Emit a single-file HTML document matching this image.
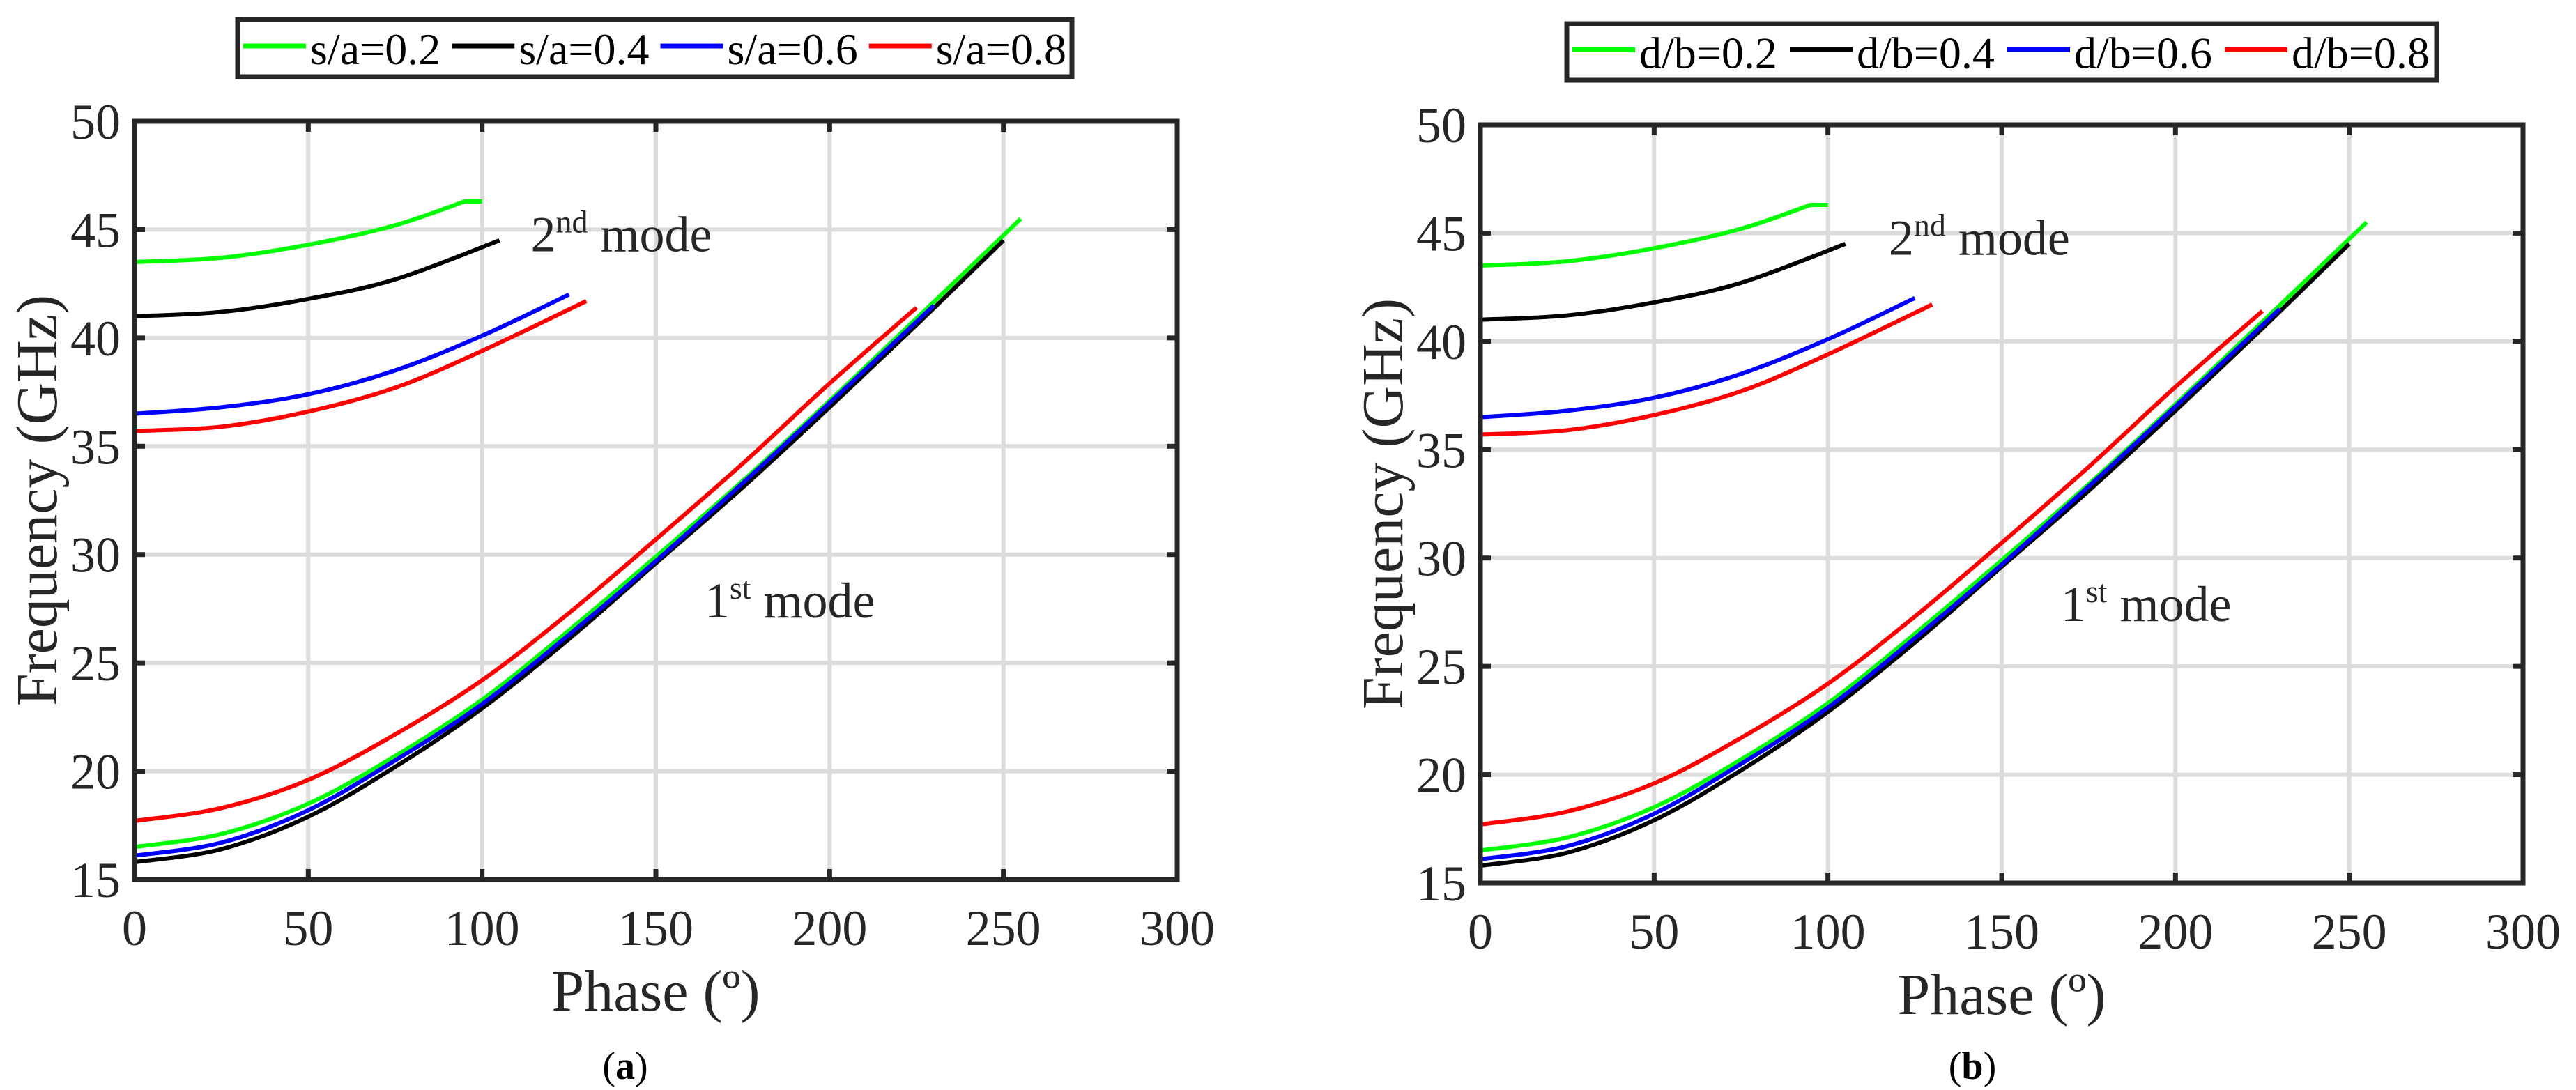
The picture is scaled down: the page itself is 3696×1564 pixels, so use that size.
<!DOCTYPE html>
<html><head><meta charset="utf-8">
<style>
html,body{margin:0;padding:0;background:#fff;}
svg{display:block;}
svg text{font-family:"Liberation Serif","DejaVu Serif",serif;}
</style></head>
<body>
<svg id="fig" width="3696" height="1564" viewBox="0 0 3696 1564" xmlns="http://www.w3.org/2000/svg" font-family="Liberation Serif, serif"></svg>
<script>
const xTicks=[0,50,100,150,200,250,300];
const yTicks=[15,20,25,30,35,40,45,50];
const seriesColors=["#00ff00","#000000","#0000ff","#ff0000"];
const labelsA=["s/a=0.2","s/a=0.4","s/a=0.6","s/a=0.8"];
const labelsB=["d/b=0.2","d/b=0.4","d/b=0.6","d/b=0.8"];
// mode 1 phases & frequencies
const m1GreenX=[0,25,50,75,100,125,150,175,200,225,255];
const m1GreenY=[16.5,17.1,18.5,20.7,23.3,26.5,29.9,33.4,37.1,40.9,45.5];
const m1BlackX=[0,25,50,75,100,125,150,175,200,225,250];
const m1BlackY=[15.8,16.4,17.9,20.2,22.9,26.1,29.6,33.1,36.8,40.6,44.5];
const m1BlueX=[0,25,50,75,100,125,150,175,200,230];
const m1BlueY=[16.1,16.7,18.2,20.5,23.1,26.3,29.7,33.3,37.0,41.5];
const m1RedX=[0,25,50,75,100,125,150,175,200,225];
const m1RedY=[17.7,18.3,19.6,21.7,24.2,27.3,30.7,34.2,37.9,41.4];
// mode 2
const m2GreenX=[0,25,50,75,95,100];
const m2GreenY=[43.5,43.7,44.3,45.2,46.3,46.3];
const m2BlackX=[0,25,50,75,105];
const m2BlackY=[41.0,41.2,41.8,42.7,44.5];
const m2BlueX=[0,25,50,75,100,125];
const m2BlueY=[36.5,36.8,37.4,38.5,40.1,42.0];
const m2RedX=[0,25,50,75,100,130];
const m2RedY=[35.7,35.9,36.6,37.7,39.4,41.7];

const NS="http://www.w3.org/2000/svg";
const svg=document.getElementById('fig');
function mk(tag,attrs,parent){const e=document.createElementNS(NS,tag);for(const k in attrs)e.setAttribute(k,attrs[k]);(parent||svg).appendChild(e);return e;}
function smoothPath(pts){
  let d="M"+pts[0][0]+","+pts[0][1];
  const n=pts.length;
  let last=n-1;
  const flatTail=n>2&&pts[n-1][1]===pts[n-2][1];
  if(flatTail)last=n-2;
  for(let i=0;i<last;i++){
    const p0=pts[Math.max(0,i-1)],p1=pts[i],p2=pts[i+1],p3=pts[Math.min(last,i+2)];
    const c1=[p1[0]+(p2[0]-p0[0])/6,p1[1]+(p2[1]-p0[1])/6];
    const c2=[p2[0]-(p3[0]-p1[0])/6,p2[1]-(p3[1]-p1[1])/6];
    d+=" C"+c1[0]+","+c1[1]+" "+c2[0]+","+c2[1]+" "+p2[0]+","+p2[1];
  }
  if(flatTail)d+=" L"+pts[n-1][0]+","+pts[n-1][1];
  return d;
}
function panel(id,x0,y0,labels,legend,caption,capX,ann2,ann1){
  const W=1496,H=1088;
  const sx=v=>x0+v/300*W, sy=v=>y0+H-(v-15)/35*H;
  const g=mk('g',{});
  
  
  xTicks.forEach(t=>{if(t>0&&t<300){const l=mk('line',{x1:sx(t),x2:sx(t),y1:y0,y2:y0+H,stroke:'#dcdcdc','stroke-width':6},g);
    }});
  yTicks.forEach(t=>{if(t>15&&t<50){const l=mk('line',{x1:x0,x2:x0+W,y1:sy(t),y2:sy(t),stroke:'#dcdcdc','stroke-width':6},g);
    }});
  const sets=[[m1GreenX,m1GreenY,0],[m1BlackX,m1BlackY,1],[m1BlueX,m1BlueY,2],[m1RedX,m1RedY,3],
              [m2GreenX,m2GreenY,0],[m2BlackX,m2BlackY,1],[m2BlueX,m2BlueY,2],[m2RedX,m2RedY,3]];
  sets.forEach((s,k)=>{
    const pts=s[0].map((v,i)=>[sx(v),sy(s[1][i])]);
    const p=mk('path',{d:smoothPath(pts),fill:'none',stroke:seriesColors[s[2]],'stroke-width':6},g);
    
    
  });
  const box=mk('rect',{x:x0,y:y0,width:W,height:H,fill:'none',stroke:'#262626','stroke-width':7},g);
  
  xTicks.forEach(t=>{
    mk('line',{x1:sx(t),x2:sx(t),y1:y0+H,y2:y0+H-15,stroke:'#262626','stroke-width':7},g);
    mk('line',{x1:sx(t),x2:sx(t),y1:y0,y2:y0+15,stroke:'#262626','stroke-width':7},g);
    const tx=mk('text',{x:sx(t),y:y0+H+94,'font-size':72,'text-anchor':'middle',fill:'#262626'},g);
    tx.textContent=t;
    
  });
  yTicks.forEach(t=>{
    mk('line',{x1:x0,x2:x0+15,y1:sy(t),y2:sy(t),stroke:'#262626','stroke-width':7},g);
    mk('line',{x1:x0+W,x2:x0+W-15,y1:sy(t),y2:sy(t),stroke:'#262626','stroke-width':7},g);
    const tx=mk('text',{x:x0-20,y:sy(t)+25,'font-size':72,'text-anchor':'end',fill:'#262626'},g);
    tx.textContent=t;
    
  });
  const xt=mk('text',{x:x0+W/2,y:y0+H+188,'font-size':84,'text-anchor':'middle',fill:'#262626'},g);
  xt.textContent='Phase (º)';
  
  const yt=mk('text',{x:0,y:0,'font-size':84,'text-anchor':'middle',fill:'#262626',transform:`translate(${x0-112},${y0+H/2}) rotate(-90)`},g);
  yt.textContent='Frequency (GHz)';
  
  const a2=mk('text',{x:sx(ann2[0]),y:sy(ann2[1]),'font-size':72,fill:'#262626'},g);
  a2.innerHTML='2<tspan font-size="46" dy="-27">nd</tspan><tspan dy="27"> mode</tspan>';
  
  const a1=mk('text',{x:sx(ann1[0]),y:sy(ann1[1]),'font-size':72,fill:'#262626'},g);
  a1.innerHTML='1<tspan font-size="46" dy="-27">st</tspan><tspan dy="27"> mode</tspan>';
  
  const [lx,ly,lw,lh]=legend;
  const lg=mk('g',{},g);
  
  mk('rect',{x:lx,y:ly,width:lw,height:lh,fill:'#fff',stroke:'#262626','stroke-width':7},lg);
  const step=lw/4;
  labels.forEach((lab,i)=>{
    const ex=lx+8+i*step;
    const e=mk('g',{},lg);
    
    mk('line',{x1:ex,x2:ex+90,y1:ly+lh/2-3,y2:ly+lh/2-3,stroke:seriesColors[i],'stroke-width':7},e);
    const t=mk('text',{x:ex+96,y:ly+lh/2+23,'font-size':64,fill:'#000'},e);
    t.textContent=lab;
  });
  const c=mk('text',{x:capX,y:1548,'font-size':56,'text-anchor':'middle',fill:'#000'},g);
  c.innerHTML='(<tspan font-weight="bold">'+caption+'</tspan>)';
  
}
panel('a',193,174,labelsA,[341,28,1197,82],'a',897,[114,44.0],[164,27.1]);
panel('b',2124,179,labelsB,[2248,34,1248,81],'b',2830,[117.5,44.0],[167,27.1]);
</script>
</body></html>
